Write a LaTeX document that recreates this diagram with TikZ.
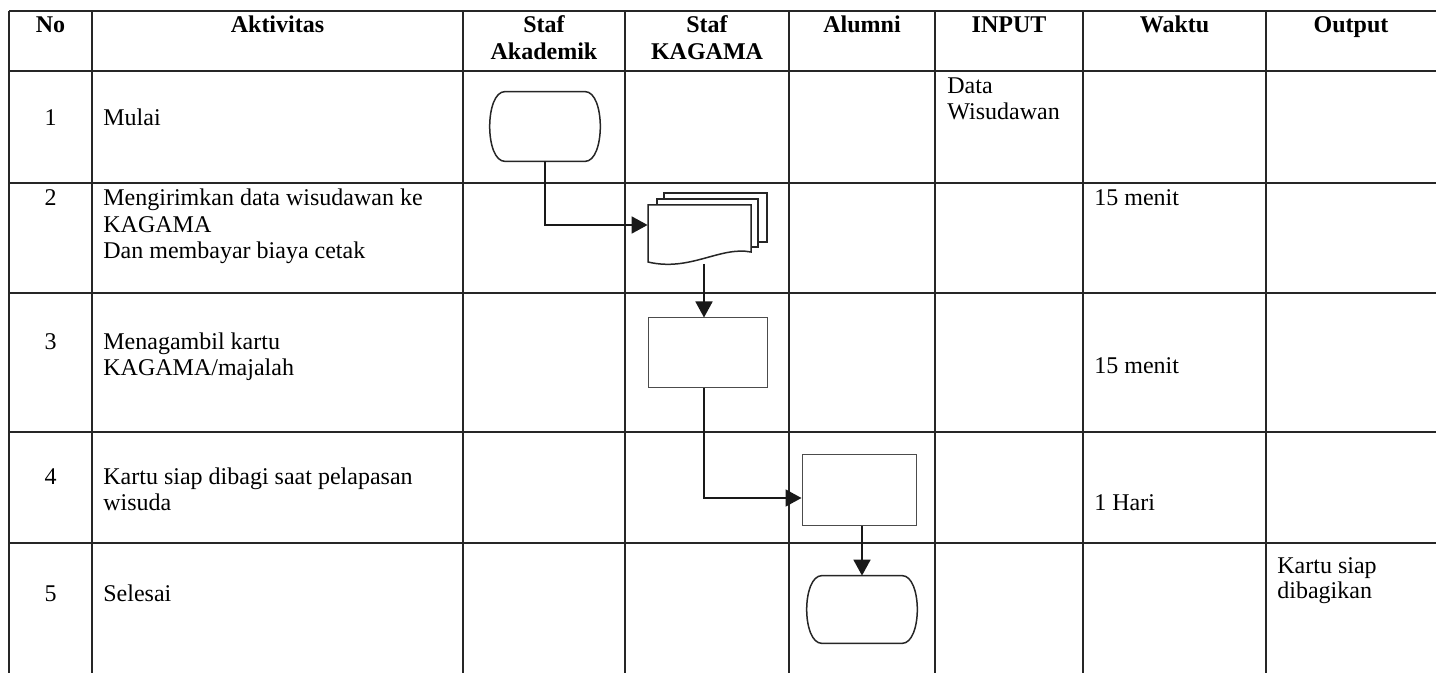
\documentclass[tikz,border=0pt]{standalone}
\usepackage{fontspec}
\setmainfont{Liberation Serif}
\usetikzlibrary{arrows.meta,calc}
\newcommand\termpath[1]{\draw[shapeline] ($(#1.north)+(-40,0)$) -- ($(#1.north)+(40,0)$) .. controls (#1.north east) and (#1.south east) .. ($(#1.south)+(40,0)$) -- ($(#1.south)+(-40,0)$) .. controls (#1.south west) and (#1.north west) .. cycle;}
\begin{document}
\begin{tikzpicture}[x=0.5pt,y=-0.5pt,
  grid/.style={line width=0.9pt, black!85},
  gridthick/.style={line width=1.3pt, black!85},
  hdr/.style={font=\fontsize{12pt}{13.5pt}\selectfont\bfseries, anchor=base, inner sep=0pt, align=center},
  txt/.style={font=\fontsize{12pt}{12.8pt}\selectfont, anchor=base west, inner sep=0pt, align=left},
  num/.style={font=\fontsize{12pt}{12.8pt}\selectfont, anchor=base, inner sep=0pt},
  shapeline/.style={draw=black!85, line width=0.75pt},
  holder/.style={inner sep=0pt, draw=none},
  procbox/.style={draw=black!70, line width=0.5pt, inner sep=0pt, fill=white},
  conn/.style={draw=black!90, line width=0.9pt, -{Triangle[length=8pt,width=8.5pt]}}
]
\useasboundingbox (0,0) rectangle (1436,673);
% table
\draw[gridthick] (9,11) -- (1436,11);
\draw[gridthick] (9,71) -- (1436,71);
\foreach \yy in {183,293,432,543} \draw[grid] (9,\yy) -- (1436,\yy);
\draw[gridthick] (9,11) -- (9,673);
\foreach \xx in {92,463,625,789,935,1083,1266} \draw[grid] (\xx,11) -- (\xx,673);
% header (base anchor = baseline of last line)
\node[hdr] (hno) at (50.5,33) {No};
\node[hdr] (hakt) at (277.5,33) {Aktivitas};
\node[hdr] (hsa) at (544,60) {Staf\\Akademik};
\node[hdr] (hsk) at (707,60) {Staf\\KAGAMA};
\node[hdr] (hal) at (862,33) {Alumni};
\node[hdr] (hin) at (1009,33) {INPUT};
\node[hdr] (hwa) at (1174.5,33) {Waktu};
\node[hdr] (hou) at (1351,33) {Output};
% rows
\node[num] (n1) at (50.5,126) {1};
\node[txt] (a1) at (103,126) {Mulai};
\node[txt] (i1) at (947,119.6) {Data\\Wisudawan};
\node[num] (n2) at (50.5,206) {2};
\node[txt, font=\fontsize{12pt}{13.2pt}\selectfont] (a2) at (103,258.8) {Mengirimkan data wisudawan ke\\KAGAMA\\Dan membayar biaya cetak};
\node[txt] (w2) at (1094,206) {15 menit};
\node[num] (n3) at (50.5,350) {3};
\node[txt] (a3) at (103,375.6) {Menagambil kartu\\KAGAMA/majalah};
\node[txt] (w3) at (1094,374) {15 menit};
\node[num] (n4) at (50.5,485) {4};
\node[txt] (a4) at (103,510.6) {Kartu siap dibagi saat pelapasan\\wisuda};
\node[txt] (w4) at (1094,511) {1 Hari};
\node[num] (n5) at (50.5,602) {5};
\node[txt] (a5) at (103,602) {Selesai};
\node[txt] (o5) at (1277,598.6) {Kartu siap\\dibagikan};
% flow shapes
\node[holder, minimum width=60pt, minimum height=34.5pt] (t1) at (545,126.5) {};
\termpath{t1}
\node[holder, minimum width=51.5pt, minimum height=20pt] (doc) at (699.5,225) {};
\draw[shapeline, fill=white] (664,193) rectangle (767,242);
\draw[shapeline, fill=white] (657,199) rectangle (758,247);
\draw[shapeline, fill=white] (648,205) -- (751,205) -- (751,252) .. controls (720,246) and (690,272) .. (648,262) -- cycle;
\node[procbox, minimum width=59.5pt, minimum height=35pt] (r3) at (707.5,353) {};
\node[procbox, minimum width=57pt, minimum height=35.5pt] (r4) at (859,490.5) {};
\node[holder, minimum width=60pt, minimum height=33.5pt] (t2) at (862,609.5) {};
\termpath{t2}
% connectors
\coordinate (dbot) at (704,264);
\draw[conn] (t1.south) |- (doc.west);
\draw[conn] (dbot) -- (dbot |- r3.north);
\draw[conn] (r3.south -| dbot) |- ($(r4.west)+(0,7.5)$);
\draw[conn] (t2.north |- r4.south) -- (t2.north);
\end{tikzpicture}
\end{document}
